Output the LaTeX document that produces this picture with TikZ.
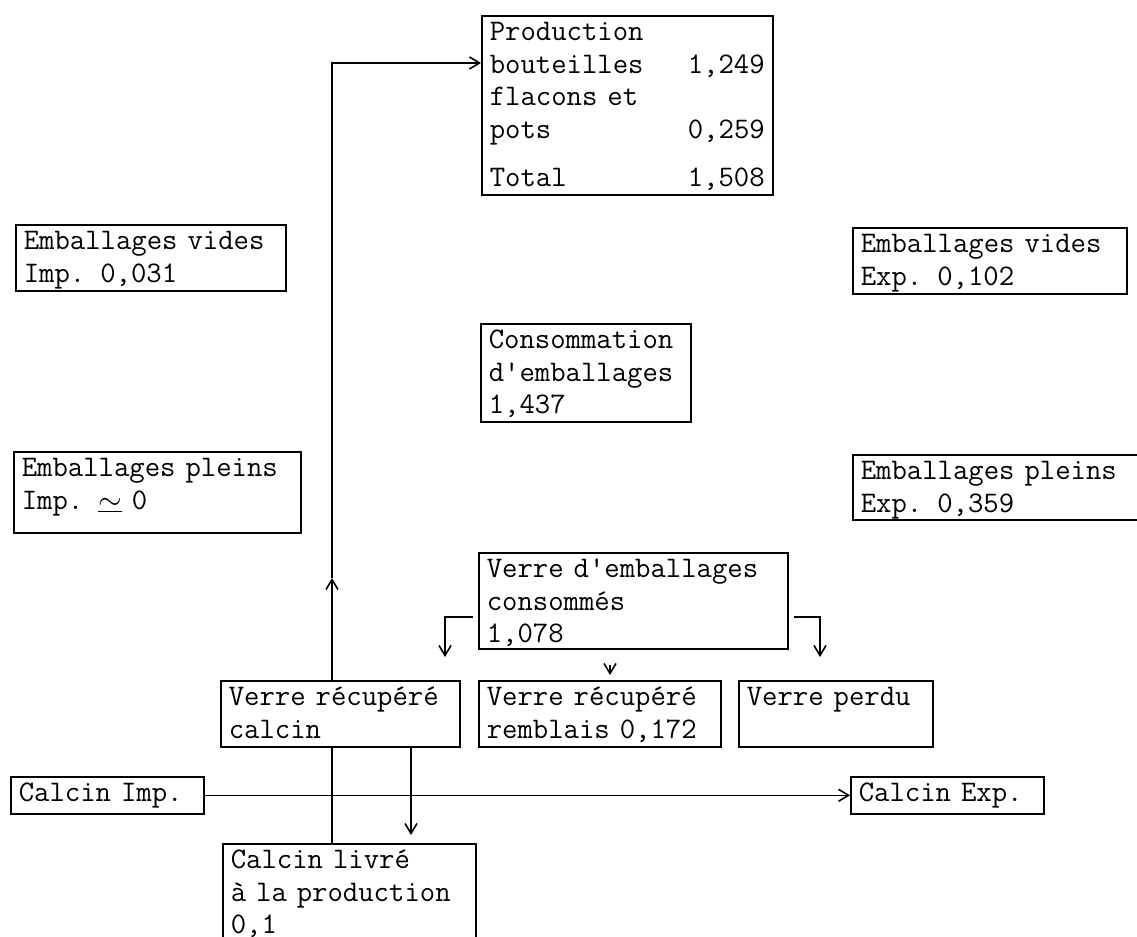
\documentclass[tikz,border=0pt]{standalone}
\usepackage{fontspec}
\usetikzlibrary{arrows.meta}
\begin{document}
\begin{tikzpicture}[x=0.02cm, y=-0.02cm, line width=0.9pt,
    >={Straight Barb[length=0.2cm, width=0.24cm]},
    font=\fontsize{17pt}{18.5pt}\selectfont\ttfamily,
    typed/.style={draw, anchor=north west, align=left, inner xsep=0.16cm,
        inner ysep=0pt, text height=0.5cm, text depth=#1}]
         \useasboundingbox (0,0) rectangle (1137,937);

         \node[typed=3.08cm, text width=5.5cm] (prod) at (481,15) {Production\\ bouteilles\hfill 1,249\\ flacons et\\ pots\hfill 0,259\\[0.32cm] Total\hfill 1,508};
         \node[typed=0.82cm, text width=5.08cm] (evimp) at (15,224) {Emballages vides\\ Imp. 0,031};
         \node[typed=0.82cm, text width=5.16cm] (evexp) at (852,227) {Emballages vides\\ Exp. 0,102};
         \node[typed=1.46cm, text width=3.88cm] (cons) at (480,323) {Consommation\\ d\textquotesingle emballages\\ 1,437};
         \node[typed=1.12cm, text width=5.42cm] (epimp) at (13,451) {Emballages pleins\\ Imp. \underline{\smash{$\sim$}} 0};
         \node[typed=0.8cm, text width=5.5cm] (epexp) at (852,454) {Emballages pleins\\ Exp. 0,359};
         \node[typed=1.42cm, text width=5.86cm] (vec) at (478,552) {Verre d\textquotesingle emballages\\ consommés\\ 1,078};
         \node[typed=0.82cm, text width=4.46cm] (vrc) at (220,680) {Verre récupéré\\ calcin};
         \node[typed=0.82cm, text width=4.52cm] (vrr) at (478,680) {Verre récupéré\\ remblais 0,172};
         \node[typed=0.82cm, text width=3.56cm] (vp) at (738,680) {Verre perdu\\ \mbox{}};
         \node[typed=0.24cm, text width=3.54cm] (cimp) at (10,776) {Calcin Imp.};
         \node[typed=0.24cm, text width=3.54cm] (cexp) at (850,776) {Calcin Exp.};
         \node[typed=1.84cm, text width=4.74cm] (cliv) at (222,843) {Calcin livré\\ à la production\\ 0,1};

         \coordinate (upx) at (332,578);
         \coordinate (dnx) at (411,0);
         \coordinate (lx) at (445,617);
         \coordinate (rx) at (820,617);
         \coordinate (mx) at (610,0);

         \draw (cliv.north -| upx) -- (vrc.south -| upx);
         \draw[->] (vrc.north -| upx) -- (upx);
         \draw[->] (upx) |- ([yshift=-0.96cm]prod.north west);
         \draw[->, shorten >=0.16cm] (vrc.south -| dnx) -- (cliv.north -| dnx);
         \draw[->] (cimp) -- (cexp);
         \draw[->, shorten <=0.1cm, shorten >=0.46cm] (vec.west |- lx) -| (vrc.north -| lx);
         \draw[->, shorten <=0.1cm, shorten >=0.46cm] (vec.east |- rx) -| (vp.north -| rx);
         \draw[->, shorten <=0.3cm, shorten >=0.1cm] (vec.south -| mx) -- (vrr.north -| mx);
\end{tikzpicture}
\end{document}
